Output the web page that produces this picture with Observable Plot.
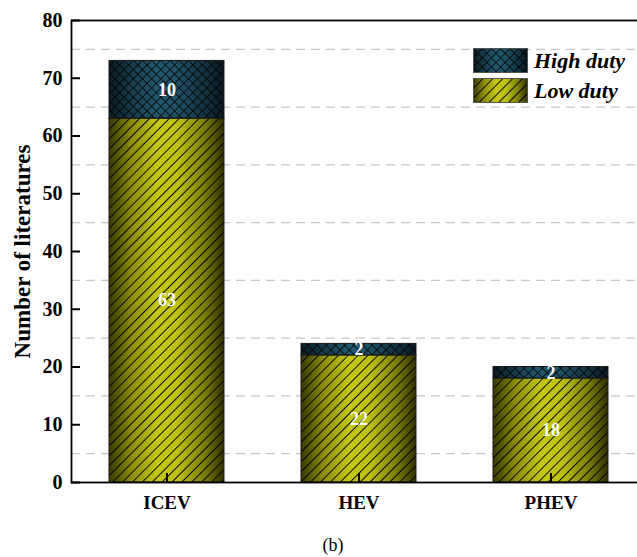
<!DOCTYPE html>
<html>
<head>
<meta charset="utf-8">
<script src="https://cdn.jsdelivr.net/npm/d3@7"></script>
<script src="https://cdn.jsdelivr.net/npm/@observablehq/plot@0.6"></script>
<style>
  html, body { margin: 0; padding: 0; background: #fff; }
  #wrap { position: relative; width: 637px; height: 557px; overflow: hidden; font-family: "Liberation Serif", "Times New Roman", serif; }
  #wrap > svg { max-width: none !important; }
  #legend { position: absolute; left: 473px; top: 48px; }
  .lg-row { display: flex; align-items: center; height: 25px; margin-bottom: 5px; }
  .lg-row svg { display: block; }
  .lg-row span { margin-left: 6px; font-size: 22px; font-weight: bold; font-style: italic; color: #000; line-height: 25px; }
  #caption { position: absolute; left: 0; width: 666px; top: 535px; text-align: center; font-size: 18px; color: #000; }
</style>
</head>
<body>
<div id="wrap"></div>
<script>
const categories = ["ICEV", "HEV", "PHEV"];
const lowDuty = [63, 22, 18];
const highDuty = [10, 2, 2];
const seriesNames = ["Low duty", "High duty"];
const yTicks = [0, 10, 20, 30, 40, 50, 60, 70, 80];
const gridValues = [5, 15, 25, 35, 45, 55, 65, 75];

const data = [];
categories.forEach((c, i) => data.push({type: c, duty: seriesNames[0], value: lowDuty[i]}));
categories.forEach((c, i) => data.push({type: c, duty: seriesNames[1], value: highDuty[i]}));

const gradFor = d => d.duty === "Low duty" ? "url(#gradLow)" : "url(#gradHigh)";
const patFor = d => d.duty === "Low duty" ? "url(#patStripes)" : "url(#patCross)";

const font = "'Liberation Serif', 'Times New Roman', serif";

const W = 647, H = 520, ML = 71, MR = 0, MT = 20, MB = 38;
const tickLen = 9;
const frameW = W - ML - MR, frameH = H - MT - MB;

const svg = Plot.plot({
  width: W,
  height: H,
  marginLeft: ML,
  marginRight: MR,
  marginTop: MT,
  marginBottom: MB,
  style: {fontFamily: font, background: "white", overflow: "visible"},
  x: {domain: categories, paddingInner: 0.4, paddingOuter: 0.2, label: null},
  y: {domain: [0, 80], label: null},
  color: {type: "identity"},
  marks: [
    Plot.ruleY(gridValues, {stroke: "#c8c8c8", strokeDasharray: "9,6", strokeWidth: 1.3}),
    Plot.barY(data, Plot.stackY({x: "type", y: "value", fill: gradFor})),
    Plot.barY(data, Plot.stackY({x: "type", y: "value", fill: patFor, stroke: "#1a1a1a", strokeWidth: 1})),
    Plot.text(data, Plot.stackY({x: "type", y: "value", text: d => String(d.value), fill: "white", fontSize: 18, fontWeight: "bold"})),
    Plot.frame({stroke: "black", strokeWidth: 1.8}),
    Plot.axisY(yTicks, {tickSize: 0, tickPadding: 9, fontSize: 20, fontWeight: "bold", fill: "black", label: "Number of literatures", labelArrow: "none", labelAnchor: "center", labelOffset: 58}),
    Plot.ruleY(yTicks, {insetRight: frameW - tickLen, stroke: "black", strokeWidth: 2}),
    Plot.axisX({tickSize: 0, tickPadding: 13, fontSize: 19, fontWeight: "bold", fill: "black", label: null}),
    Plot.ruleX(categories, {insetTop: frameH - tickLen, stroke: "black", strokeWidth: 2})
  ]
});
svg.style.maxWidth = "none";

// defs: gradients + hatch patterns
const defs = d3.select(svg).insert("defs", ":first-child");
function grad(id, stops) {
  const g = defs.append("linearGradient").attr("id", id).attr("x1", 0).attr("x2", 1).attr("y1", 0).attr("y2", 0);
  stops.forEach(([o, c]) => g.append("stop").attr("offset", o).attr("stop-color", c));
}
grad("gradLow", [[0, "#3a3a00"], [0.2, "#8c8f08"], [0.42, "#c4c814"], [0.6, "#bcc010"], [0.82, "#7e8106"], [1, "#303000"]]);
grad("gradHigh", [[0, "#0a1b22"], [0.2, "#173d4f"], [0.42, "#22586d"], [0.6, "#1f5064"], [0.82, "#143544"], [1, "#081820"]]);

const ps = defs.append("pattern").attr("id", "patStripes").attr("patternUnits", "userSpaceOnUse")
  .attr("width", 7).attr("height", 7).attr("patternTransform", "rotate(45)");
ps.append("line").attr("x1", 0).attr("y1", -1).attr("x2", 0).attr("y2", 8).attr("stroke", "#000").attr("stroke-width", 1.9);

const pc = defs.append("pattern").attr("id", "patCross").attr("patternUnits", "userSpaceOnUse")
  .attr("width", 6.5).attr("height", 6.5).attr("patternTransform", "rotate(45)");
pc.append("line").attr("x1", 0).attr("y1", -1).attr("x2", 0).attr("y2", 8).attr("stroke", "#000").attr("stroke-width", 1.5);
pc.append("line").attr("x1", -1).attr("y1", 0).attr("x2", 8).attr("y2", 0).attr("stroke", "#000").attr("stroke-width", 1.5);

// y label style
d3.select(svg).selectAll("[aria-label='y-axis label'] text").attr("font-size", 23).attr("font-weight", "bold").attr("fill", "black");

const wrap = document.getElementById("wrap");
wrap.appendChild(svg);

// legend
const legend = document.createElement("div");
legend.id = "legend";
const legendItems = [[seriesNames[1], "url(#gradHigh)", "url(#patCross)"], [seriesNames[0], "url(#gradLow)", "url(#patStripes)"]];
legendItems.forEach(([name, g, p]) => {
  const row = document.createElement("div");
  row.className = "lg-row";
  const s = d3.create("svg").attr("width", 55).attr("height", 25);
  s.append("rect").attr("x", 0.5).attr("y", 0.5).attr("width", 54).attr("height", 24).attr("fill", g);
  s.append("rect").attr("x", 0.5).attr("y", 0.5).attr("width", 54).attr("height", 24).attr("fill", p).attr("stroke", "#555").attr("stroke-width", 1);
  row.appendChild(s.node());
  const t = document.createElement("span");
  t.textContent = name;
  row.appendChild(t);
  legend.appendChild(row);
});
wrap.appendChild(legend);

const cap = document.createElement("div");
cap.id = "caption";
cap.textContent = "(b)";
wrap.appendChild(cap);
</script>
</body>
</html>
